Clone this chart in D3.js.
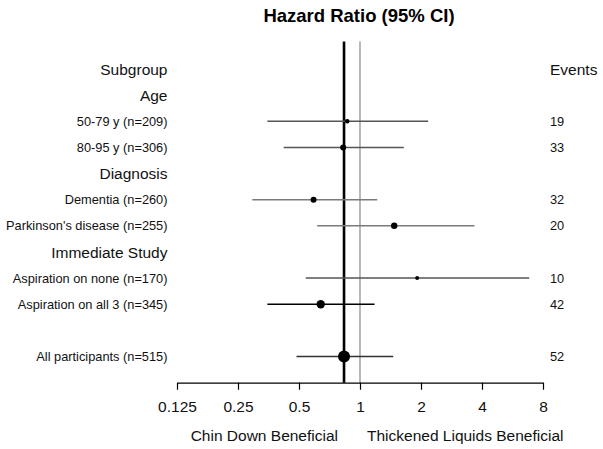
<!DOCTYPE html>
<html>
<head>
<meta charset="utf-8">
<script src="https://cdn.jsdelivr.net/npm/d3@7"></script>
<style>
  html, body { margin: 0; padding: 0; background: #fff; }
  svg { display: block; font-family: "Liberation Sans", Arial, sans-serif; }
</style>
</head>
<body>
<svg id="chart" width="603" height="449"></svg>
<script>
// ---- data ----
const rowLabels = ["Subgroup", "Age", "50-79 y (n=209)", "80-95 y (n=306)", "Diagnosis",
  "Dementia (n=260)", "Parkinson's disease (n=255)", "Immediate Study",
  "Aspiration on none (n=170)", "Aspiration on all 3 (n=345)", "", "All participants (n=515)"];
const rowIsHeader = [true, true, false, false, true, false, false, true, false, false, false, false];
const hazardRatio = [null, null, 0.865, 0.826, null, 0.59, 1.475, null, 1.915, 0.64, null, 0.834];
const ciLower    = [null, null, 0.349, 0.42, null, 0.294, 0.615, null, 0.54, 0.349, null, 0.486];
const ciUpper    = [null, null, 2.17, 1.645, null, 1.216, 3.67, null, 6.84, 1.18, null, 1.46];
const events     = [null, null, 19, 33, null, 32, 20, null, 10, 42, null, 52];
const overallHR = 0.834;
const tickValues = [0.125, 0.25, 0.5, 1, 2, 4, 8];
const tickLabels = ["0.125", "0.25", "0.5", "1", "2", "4", "8"];

// ---- styles (not data) ----
const markerRadius = [0, 0, 2.3, 3, 0, 3, 3.2, 0, 2, 4.2, 0, 6];
const lineColor = ["", "", "#555", "#555", "", "#7a7a7a", "#7a7a7a", "", "#555", "#000", "", "#333"];

const svg = d3.select("#chart");

const x = d3.scaleLog().base(2).domain([0.125, 8]).range([177, 543]);
const y = d3.scaleBand().domain(d3.range(rowLabels.length)).range([56, 369.5]);
const yc = i => y(i) + y.bandwidth() / 2;

// title
svg.append("text")
  .attr("x", 359).attr("y", 15).attr("dy", "0.36em")
  .attr("text-anchor", "middle")
  .attr("font-weight", "bold").attr("font-size", 18.5)
  .attr("fill", "#000")
  .text("Hazard Ratio (95% CI)");

const axisY = 382.7;

// reference lines
svg.append("line")
  .attr("x1", x(1)).attr("x2", x(1))
  .attr("y1", 41.5).attr("y2", axisY)
  .attr("stroke", "#b0b0b0").attr("stroke-width", 1.8);
svg.append("line")
  .attr("x1", x(overallHR)).attr("x2", x(overallHR))
  .attr("y1", 41.5).attr("y2", axisY)
  .attr("stroke", "#000").attr("stroke-width", 2.6);

// labels
svg.append("g").selectAll("text")
  .data(rowLabels.map((t, i) => ({t, i})).filter(d => d.t !== ""))
  .join("text")
  .attr("x", 167.5)
  .attr("y", d => yc(d.i))
  .attr("dy", "0.36em")
  .attr("text-anchor", "end")
  .attr("font-size", d => rowIsHeader[d.i] ? 15.5 : 12.8)
  .attr("fill", "#111")
  .text(d => d.t);

// events header & values
svg.append("text")
  .attr("x", 550).attr("y", yc(0)).attr("dy", "0.36em")
  .attr("font-size", 15.5).attr("fill", "#111")
  .text("Events");

const dataRows = d3.range(rowLabels.length).filter(i => hazardRatio[i] !== null);

svg.append("g").selectAll("text")
  .data(dataRows)
  .join("text")
  .attr("x", 550)
  .attr("y", i => yc(i))
  .attr("dy", "0.36em")
  .attr("font-size", 12.8).attr("fill", "#111")
  .text(i => events[i]);

// CI lines
svg.append("g").selectAll("line")
  .data(dataRows)
  .join("line")
  .attr("x1", i => x(ciLower[i])).attr("x2", i => x(ciUpper[i]))
  .attr("y1", i => yc(i)).attr("y2", i => yc(i))
  .attr("stroke", i => lineColor[i]).attr("stroke-width", 1.6);

// points
svg.append("g").selectAll("circle")
  .data(dataRows)
  .join("circle")
  .attr("cx", i => x(hazardRatio[i]))
  .attr("cy", i => yc(i))
  .attr("r", i => markerRadius[i])
  .attr("fill", "#000");

// axis
const axis = d3.axisBottom(x)
  .tickValues(tickValues)
  .tickFormat((d, i) => tickLabels[i])
  .tickSize(7).tickSizeOuter(0).tickPadding(11);
const gAxis = svg.append("g").attr("transform", `translate(0,${axisY})`).call(axis);
gAxis.select(".domain").attr("stroke", "#000").attr("stroke-width", 1.2);
gAxis.selectAll(".tick line").attr("stroke", "#000").attr("stroke-width", 1.2);
gAxis.selectAll(".tick text")
  .attr("font-size", 15.5).attr("fill", "#111")
  .attr("font-family", "Liberation Sans, Arial, sans-serif");

// bottom labels
svg.append("text")
  .attr("x", 338).attr("y", 435.7).attr("dy", "0.36em")
  .attr("text-anchor", "end").attr("font-size", 15.5).attr("fill", "#111")
  .text("Chin Down Beneficial");
svg.append("text")
  .attr("x", 367).attr("y", 435.7).attr("dy", "0.36em")
  .attr("text-anchor", "start").attr("font-size", 15.5).attr("fill", "#111")
  .text("Thickened Liquids Beneficial");
</script>
</body>
</html>
